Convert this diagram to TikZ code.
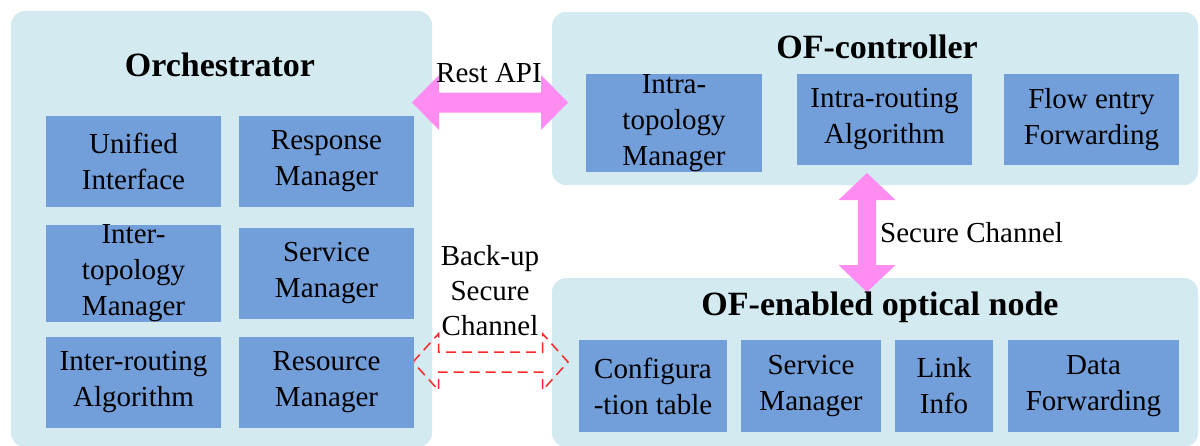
\documentclass[tikz,border=0pt]{standalone}
\usepackage{fontspec}
\setmainfont{Liberation Serif}
\usetikzlibrary{calc}
\definecolor{panelbg}{RGB}{210,234,240}
\definecolor{boxbg}{RGB}{114,158,218}
\definecolor{pinkarr}{RGB}{255,140,240}
\definecolor{reddash}{RGB}{255,40,40}
\tikzset{
  panel/.style={fill=panelbg, draw=none, rounded corners=14pt},
  box/.style={fill=boxbg, draw=none, inner sep=0pt, align=center, font=\fontsize{29}{36}\selectfont},
  paneltitle/.style={font=\fontsize{34}{40}\selectfont\bfseries, anchor=base, inner sep=0pt},
  lbl/.style={font=\fontsize{29}{35}\selectfont, inner sep=0pt},
  pinkarrow/.style={fill=pinkarr, draw=none},
  dasharrow/.style={draw=reddash, line width=1.5pt, dash pattern=on 10pt off 6pt, line join=miter},
}
% horizontal block double arrow: style, left tip, right tip, half shaft, half head, head length
\newcommand{\myHArrow}[6]{%
  \path[#1] let \p1=(#2), \p2=(#3) in
    (\x1,\y1) -- (\x1+#6,\y1+#5) -- (\x1+#6,\y1+#4) -- (\x2-#6,\y2+#4) -- (\x2-#6,\y2+#5)
    -- (\x2,\y2) -- (\x2-#6,\y2-#5) -- (\x2-#6,\y2-#4) -- (\x1+#6,\y1-#4) -- (\x1+#6,\y1-#5) -- cycle;}
% vertical block double arrow: style, top tip, bottom tip, half shaft, half head, head length
\newcommand{\myVArrow}[6]{%
  \path[#1] let \p1=(#2), \p2=(#3) in
    (\x1,\y1) -- (\x1+#5,\y1-#6) -- (\x1+#4,\y1-#6) -- (\x2+#4,\y2+#6) -- (\x2+#5,\y2+#6)
    -- (\x2,\y2) -- (\x2-#5,\y2+#6) -- (\x2-#4,\y2+#6) -- (\x1-#4,\y1-#6) -- (\x1-#5,\y1-#6) -- cycle;}
\begin{document}
\begin{tikzpicture}[x=1pt,y=-1pt]
\useasboundingbox (0,0) rectangle (1200,445);
\begin{scope}
\clip (0,0) rectangle (1200,445);
% panels
\path[panel] (11,11) rectangle (432,447);
\path[panel] (552,12) rectangle (1198,185);
\path[panel] (552,278) rectangle (1198,447);
\end{scope}
\node[inner sep=0pt] (orch) at (221.5,229) {};
\node[inner sep=0pt] (ofc) at (875,98.5) {};
\node[inner sep=0pt] (ofn) at (875,361.5) {};

% connectors (block arrows)
\coordinate (restL) at (412,102.5);
\coordinate (restR) at (568,102.5);
\coordinate (secT) at (867,173);
\coordinate (secB) at (867,292);
\coordinate (bkL) at (413,362);
\coordinate (bkR) at (568,362);
\myHArrow{pinkarrow}{restL}{restR}{10pt}{27.5pt}{27pt}
\myVArrow{pinkarrow}{secT}{secB}{9pt}{28.5pt}{27pt}
\myHArrow{dasharrow}{bkL}{bkR}{10pt}{28.3pt}{25.5pt}

% titles
\node[paneltitle] (torch) at (220,76) {Orchestrator};
\node[paneltitle] (tofc) at (877,58) {OF-controller};
\node[paneltitle] (tofn) at (880,315) {OF-enabled optical node};

% orchestrator boxes
\node[box, minimum width=175pt, minimum height=91pt] (ui) at (133.5,161.5) {Unified\\Interface};
\node[box, minimum width=175pt, minimum height=91pt] (rm) at (326.5,161.5) {Response\\Manager};
\node[box, minimum width=175pt, minimum height=91pt] (itm) at (133.5,273.5) {Inter-\\topology\\Manager};
\node[box, minimum width=175pt, minimum height=91pt] (sm) at (326.5,273.5) {Service\\Manager};
\node[box, minimum width=175pt, minimum height=91pt] (ira) at (133.5,382.5) {Inter-routing\\Algorithm};
\node[box, minimum width=175pt, minimum height=91pt] (resm) at (326.5,382.5) {Resource\\Manager};

% OF-controller boxes
\node[box, minimum width=176pt, minimum height=90pt] (intm) at (674,123) {Intra-\\topology\\Manager};
\node[box, minimum width=175pt, minimum height=91pt] (inra) at (884.5,119.5) {Intra-routing\\Algorithm};
\node[box, minimum width=175pt, minimum height=91pt] (fef) at (1091.5,119.5) {Flow entry\\Forwarding};

% OF-enabled node boxes
\node[box, minimum width=148pt, minimum height=92pt] (cfg) at (653,386) {Configura\\-tion table};
\node[box, minimum width=140pt, minimum height=92pt] (nsm) at (811,386) {Service\\Manager};
\node[box, minimum width=98pt, minimum height=92pt] (li) at (944,386) {Link\\Info};
\node[box, minimum width=171pt, minimum height=92pt] (df) at (1093.5,386) {Data\\Forwarding};

% labels
\node[lbl, anchor=base] (lrest) at (489,82) {Rest API};
\node[lbl, anchor=base west] (lsec) at (880,242) {Secure Channel};
\node[lbl, align=center] (lbk) at (490,291) {Back-up\\Secure\\Channel};
\end{tikzpicture}
\end{document}
